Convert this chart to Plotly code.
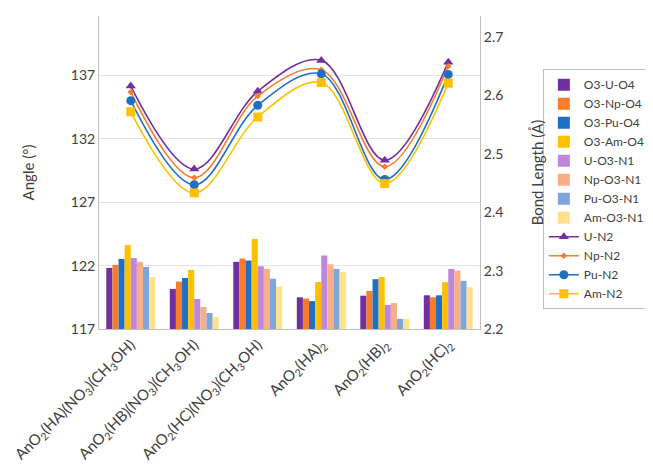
import plotly.graph_objects as go

categories = ["AnO<sub>2</sub>(HA)(NO<sub>3</sub>)(CH<sub>3</sub>OH)",
              "AnO<sub>2</sub>(HB)(NO<sub>3</sub>)(CH<sub>3</sub>OH)",
              "AnO<sub>2</sub>(HC)(NO<sub>3</sub>)(CH<sub>3</sub>OH)",
              "AnO<sub>2</sub>(HA)<sub>2</sub>",
              "AnO<sub>2</sub>(HB)<sub>2</sub>",
              "AnO<sub>2</sub>(HC)<sub>2</sub>"]

bar_names = ["O3-U-O4", "O3-Np-O4", "O3-Pu-O4", "O3-Am-O4",
             "U-O3-N1", "Np-O3-N1", "Pu-O3-N1", "Am-O3-N1"]
O3_U_O4 = [121.82, 120.16, 122.30, 119.50, 119.63, 119.66]
O3_Np_O4 = [122.06, 120.74, 122.56, 119.40, 120.00, 119.50]
O3_Pu_O4 = [122.53, 121.03, 122.40, 119.20, 120.93, 119.66]
O3_Am_O4 = [123.63, 121.66, 124.10, 120.70, 121.10, 120.70]
U_O3_N1 = [122.60, 119.37, 121.95, 122.80, 118.90, 121.74]
Np_O3_N1 = [122.30, 118.74, 121.74, 122.10, 119.05, 121.60]
Pu_O3_N1 = [121.90, 118.26, 120.97, 121.74, 117.80, 120.80]
Am_O3_N1 = [121.10, 117.95, 120.34, 121.50, 117.80, 120.30]
bar_values = [O3_U_O4, O3_Np_O4, O3_Pu_O4, O3_Am_O4,
              U_O3_N1, Np_O3_N1, Pu_O3_N1, Am_O3_N1]
bar_colors = ["#7030A0", "#F97B2C", "#1F6FC5", "#FFC000",
              "#BE87DD", "#F9AE8A", "#7EA6DC", "#FFE08C"]

line_names = ["U-N2", "Np-N2", "Pu-N2", "Am-N2"]
U_N2 = [2.616, 2.474, 2.607, 2.660, 2.489, 2.657]
Np_N2 = [2.606, 2.459, 2.599, 2.644, 2.478, 2.650]
Pu_N2 = [2.591, 2.447, 2.583, 2.637, 2.456, 2.636]
Am_N2 = [2.572, 2.433, 2.563, 2.622, 2.449, 2.621]
line_values = [U_N2, Np_N2, Pu_N2, Am_N2]
line_colors = ["#7030A0", "#F97B2C", "#1F6FC5", "#FFC000"]
line_markers = ["triangle-up", "diamond", "circle", "square"]
marker_sizes = [9, 5, 9, 9]

BASE = 117
fig = go.Figure()
for name, vals, col in zip(bar_names, bar_values, bar_colors):
    fig.add_trace(go.Bar(x=categories, y=[v - BASE for v in vals], base=BASE,
                         name=name, marker_color=col, marker_line_width=0,
                         yaxis="y"))

for name, vals, col, sym, ms in zip(line_names, line_values, line_colors, line_markers, marker_sizes):
    fig.add_trace(go.Scatter(x=categories, y=vals, name=name, yaxis="y2",
                             mode="lines+markers",
                             line=dict(color=col, width=1.6, shape="spline", smoothing=1.0),
                             marker=dict(symbol=sym, size=ms, color=col)))

font_family = "Lato, Open Sans, sans-serif"
fig.update_layout(
    width=653, height=470,
    margin=dict(l=91, r=181, t=8, b=149, autoexpand=False),
    plot_bgcolor="white", paper_bgcolor="white",
    barmode="group", bargap=0.23, bargroupgap=0,
    font=dict(family=font_family, size=13, color="#404040"),
    xaxis=dict(tickangle=-45, showline=True, linecolor="#BFBFBF", linewidth=1,
               ticks="", tickfont=dict(size=15, color="#404040"), automargin=False),
    yaxis=dict(range=[117, 141.7], tick0=117, dtick=5, showgrid=True,
               gridcolor="#E3E3E3", showline=True, linecolor="#BFBFBF", linewidth=1,
               title=dict(text="Angle (°)", font=dict(size=15, color="#404040"), standoff=32),
               tickfont=dict(size=14, color="#404040"), zeroline=False, ticks="",
               automargin=False),
    yaxis2=dict(range=[2.2, 2.736], tick0=2.2, dtick=0.1, overlaying="y", side="right",
                showgrid=False, showline=True, linecolor="#BFBFBF", linewidth=1,
                tickformat=".1f",
                title=dict(text="Bond Length (Å)", font=dict(size=15, color="#404040"), standoff=30),
                tickfont=dict(size=14, color="#404040"), zeroline=False, ticks="",
                automargin=False),
    legend=dict(x=1.165, y=0.83, xanchor="left", yanchor="top",
                bgcolor="white", bordercolor="#BFBFBF", borderwidth=1,
                font=dict(size=12, color="#404040"), tracegroupgap=0,
                itemwidth=30),
    showlegend=True,
)
fig.write_html("out.html")
